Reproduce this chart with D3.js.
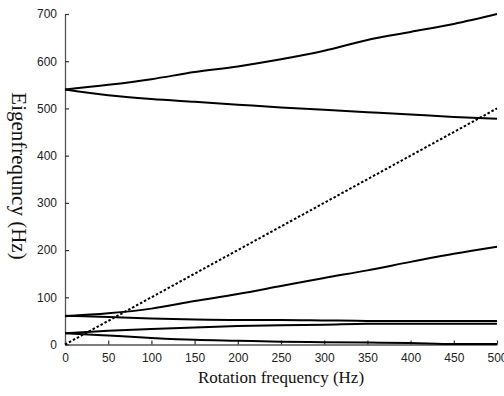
<!DOCTYPE html>
<html>
<head>
<meta charset="utf-8">
<script src="https://cdn.jsdelivr.net/npm/d3@7"></script>
<style>
  body { margin: 0; background: #fff; }
  svg { display: block; }
  .tick text { font-family: "Liberation Sans", Arial, sans-serif; font-size: 12px; fill: #222; }
  .axis-label { font-family: "Liberation Serif", "Times New Roman", serif; fill: #111; }
</style>
</head>
<body>
<div id="chart"></div>
<script>
// Rotation frequency samples (Hz)
const rotation = [0, 50, 100, 150, 200, 250, 300, 350, 400, 450, 500];

// Eigenfrequency branches (Hz)
const modeHighUp   = [540, 550, 562, 577, 589, 604, 622, 645, 662, 679, 700];
const modeHighDown = [540, 528, 520, 514, 508, 502, 497, 492, 487, 482, 478];
const modeMidUp    = [60, 66, 76, 92, 107, 124, 141, 157, 175, 192, 207];
const modeMidFlat  = [61, 58, 55, 53, 52, 52, 51, 50, 50, 50, 50];
const modeLowUp    = [24, 29, 33, 36, 39, 41, 42, 44, 44, 44, 44];
const modeLowDown  = [24, 19, 14, 10, 8, 6, 5, 4, 3, 1, 1];

// 1x excitation line (f = rotation)
const excitation = [0, 500];

const xTicks = [0, 50, 100, 150, 200, 250, 300, 350, 400, 450, 500];
const yTicks = [0, 100, 200, 300, 400, 500, 600, 700];

const W = 504, H = 396;
const margin = { left: 65, right: 7, top: 14, bottom: 51.5 };

const svg = d3.select('#chart').append('svg')
  .attr('width', W)
  .attr('height', H);

const x = d3.scaleLinear().domain([0, 500]).range([margin.left, W - margin.right]);
const y = d3.scaleLinear().domain([0, 700]).range([H - margin.bottom, margin.top]);

// ── Axes (ticks point inward) ──────────────────────────────
const xAxis = svg.append('g')
  .attr('transform', `translate(0,${y(0)})`)
  .call(d3.axisBottom(x).tickValues(xTicks).tickSizeInner(-4).tickSizeOuter(0).tickPadding(9));

const yAxis = svg.append('g')
  .attr('transform', `translate(${x(0)},0)`)
  .call(d3.axisLeft(y).tickValues(yTicks).tickSizeInner(-4).tickSizeOuter(0).tickPadding(8));

[xAxis, yAxis].forEach(a => {
  a.select('.domain').attr('stroke', '#555').attr('stroke-width', 1.3);
  a.selectAll('.tick line').attr('stroke', '#333').attr('stroke-width', 1.2);
});

// ── Curves ─────────────────────────────────────────────────
const line = d3.line()
  .x((d, i) => x(rotation[i]))
  .y(d => y(d))
  .curve(d3.curveMonotoneX);

const modes = [modeHighUp, modeHighDown, modeMidUp, modeMidFlat, modeLowUp, modeLowDown];

svg.append('g').selectAll('path')
  .data(modes)
  .enter()
  .append('path')
  .attr('d', line)
  .attr('fill', 'none')
  .attr('stroke', '#000')
  .attr('stroke-width', 2);

svg.append('path')
  .datum(excitation)
  .attr('d', d3.line().x(d => x(d)).y(d => y(d)))
  .attr('fill', 'none')
  .attr('stroke', '#000')
  .attr('stroke-width', 2)
  .attr('stroke-dasharray', '2.5,2');

// ── Labels ─────────────────────────────────────────────────
svg.append('text')
  .attr('class', 'axis-label')
  .attr('x', 281)
  .attr('y', 383)
  .attr('text-anchor', 'middle')
  .attr('font-size', 17)
  .text('Rotation frequency (Hz)');

svg.append('text')
  .attr('class', 'axis-label')
  .attr('transform', 'translate(12,176) rotate(90)')
  .attr('text-anchor', 'middle')
  .attr('font-size', 21)
  .text('Eigenfrequncy (Hz)');
</script>
</body>
</html>
